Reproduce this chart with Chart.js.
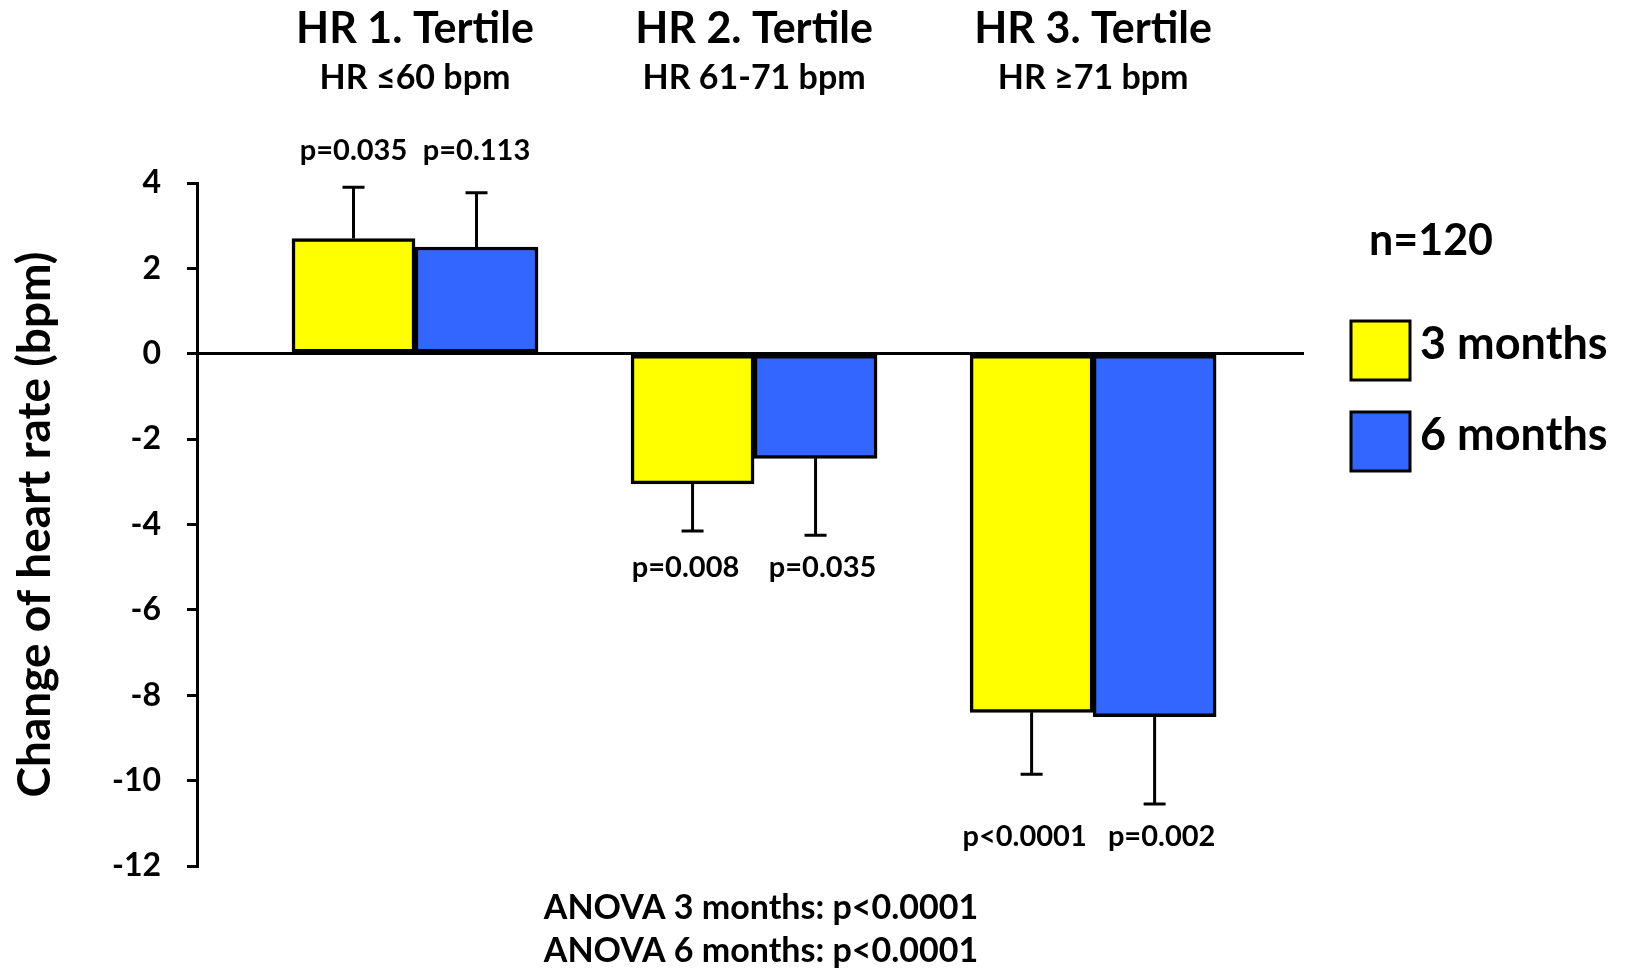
<!DOCTYPE html>
<html>
<head>
<meta charset="utf-8">
<title>Change of heart rate by HR tertile</title>
<script src="https://cdn.jsdelivr.net/npm/chart.js@4.4.1/dist/chart.umd.min.js"></script>
<style>
  html, body { margin: 0; padding: 0; background: #fff; }
  #wrap { width: 1625px; height: 970px; }
</style>
</head>
<body>
<div id="wrap"><canvas id="hrChart"></canvas></div>
<script>
// Groups (heart rate tertiles at baseline)
const tertiles = ['HR 1. Tertile', 'HR 2. Tertile', 'HR 3. Tertile'];
const tertileRanges = ['HR \u226460 bpm', 'HR 61-71 bpm', 'HR \u226571 bpm'];

// Mean change of heart rate (bpm) and one-sided SD whisker
const months3 = [2.7, -3.05, -8.4];
const months6 = [2.5, -2.45, -8.5];
const months3Err = [1.2, 1.1, 1.45];
const months6Err = [1.27, 1.8, 2.05];

const pValues3 = ['p=0.035', 'p=0.008', 'p<0.0001'];
const pValues6 = ['p=0.113', 'p=0.035', 'p=0.002'];

const yTicks = [-12, -10, -8, -6, -4, -2, 0, 2, 4];
const sampleNote = 'n=120';
const anovaNotes = ['ANOVA 3 months: p<0.0001', 'ANOVA 6 months: p<0.0001'];

const FONT = 'Lato, "Open Sans", sans-serif';
const YELLOW = '#FFFF00';
const BLUE = '#3366FF';

// whiskers + p-values under/over each pair of bars
const errorBars = {
    id: 'errorBars',
    afterDatasetsDraw(chart) {
        const { ctx, scales: { y } } = chart;
        ctx.save();
        ctx.strokeStyle = '#000';
        ctx.lineWidth = 3;
        const ends = [];
        chart.data.datasets.forEach((ds, di) => {
            chart.getDatasetMeta(di).data.forEach((bar, i) => {
                const v = ds.data[i].y;
                const end = v >= 0 ? v + ds.errors[i] : v - ds.errors[i];
                const yEnd = y.getPixelForValue(end);
                ctx.beginPath();
                ctx.moveTo(bar.x, bar.y);
                ctx.lineTo(bar.x, yEnd);
                ctx.moveTo(bar.x - 11, yEnd);
                ctx.lineTo(bar.x + 11, yEnd);
                ctx.stroke();
                ends[i] = ends[i] || [];
                ends[i].push({ x: bar.x, y: yEnd, up: v >= 0, label: ds.pLabels[i] });
            });
        });

        ctx.fillStyle = '#000';
        ctx.font = `bold 29px ${FONT}`;
        ctx.textAlign = 'center';
        ends.forEach(pair => {
            const up = pair[0].up;
            const yPos = up ? Math.min(...pair.map(p => p.y)) - 27
                            : Math.max(...pair.map(p => p.y)) + 18;
            ctx.textBaseline = up ? 'alphabetic' : 'top';
            // labels below the axis sit a little apart from each other
            const spread = up ? 0 : 7;
            pair.forEach((p, k) => ctx.fillText(p.label, p.x + (k === 0 ? -spread : spread), yPos));
        });
        ctx.restore();
    }
};

// group headings, legend, sample size and ANOVA notes
const annotations = {
    id: 'annotations',
    afterDraw(chart) {
        const { ctx, scales: { x } } = chart;
        ctx.save();
        ctx.fillStyle = '#000';
        ctx.textAlign = 'center';
        ctx.textBaseline = 'alphabetic';
        tertiles.forEach((t, i) => {
            const cx = x.getPixelForValue(i + 1);
            ctx.font = `bold 43px ${FONT}`;
            ctx.fillText(t, cx, 43);
            ctx.font = `bold 34px ${FONT}`;
            ctx.fillText(tertileRanges[i], cx, 89);
        });

        ctx.font = `bold 43px ${FONT}`;
        ctx.fillText(sampleNote, 1431, 255);

        // legend
        const items = chart.data.datasets.map(d => ({ label: d.label, color: d.backgroundColor }));
        const tops = [321, 412];
        items.forEach((it, i) => {
            ctx.fillStyle = it.color;
            ctx.fillRect(1351, tops[i], 59, 59);
            ctx.strokeStyle = '#000';
            ctx.lineWidth = 3;
            ctx.strokeRect(1351, tops[i], 59, 59);
            ctx.fillStyle = '#000';
            ctx.textAlign = 'left';
            ctx.font = `bold 45px ${FONT}`;
            ctx.fillText(it.label, 1420, tops[i] + 38);
        });

        ctx.textAlign = 'center';
        ctx.font = `bold 34px ${FONT}`;
        ctx.fillText(anovaNotes[0], 761, 919);
        ctx.fillText(anovaNotes[1], 761, 962);
        ctx.restore();
    }
};

const ctx = document.getElementById('hrChart').getContext('2d');
new Chart(ctx, {
    type: 'bar',
    data: {
        datasets: [
            {
                label: '3 months',
                data: months3.map((v, i) => ({ x: i + 1, y: v })),
                errors: months3Err,
                pLabels: pValues3,
                backgroundColor: YELLOW,
                borderColor: '#000',
                borderWidth: 3.5,
                borderSkipped: false,
                barThickness: 123
            },
            {
                label: '6 months',
                data: months6.map((v, i) => ({ x: i + 1, y: v })),
                errors: months6Err,
                pLabels: pValues6,
                backgroundColor: BLUE,
                borderColor: '#000',
                borderWidth: 3.5,
                borderSkipped: false,
                barThickness: 123
            }
        ]
    },
    options: {
        responsive: true,
        maintainAspectRatio: false,
        animation: false,
        devicePixelRatio: 1,
        layout: { padding: { top: 183, right: 321, bottom: 104, left: 0 } },
        plugins: { legend: { display: false }, tooltip: { enabled: false } },
        scales: {
            x: {
                type: 'linear',
                display: false,
                offset: false,
                min: 0.357,
                max: 3.622
            },
            y: {
                min: yTicks[0],
                max: yTicks[yTicks.length - 1],
                afterFit: s => { s.width = 197; },
                afterBuildTicks: s => { s.ticks = yTicks.map(v => ({ value: v })); },
                border: { display: true, color: '#000', width: 3 },
                grid: {
                    color: c => (c.tick && c.tick.value === 0 ? '#000' : 'rgba(0,0,0,0)'),
                    lineWidth: 3,
                    tickColor: '#000',
                    tickWidth: 3,
                    tickLength: 10
                },
                ticks: {
                    color: '#000',
                    padding: 26,
                    font: { family: FONT, size: 32, weight: 'bold' }
                },
                title: {
                    display: true,
                    text: 'Change of heart rate (bpm)',
                    color: '#000',
                    padding: { top: 8 },
                    font: { family: FONT, size: 46, weight: 'bold' }
                }
            }
        }
    },
    plugins: [errorBars, annotations]
});
</script>
</body>
</html>
